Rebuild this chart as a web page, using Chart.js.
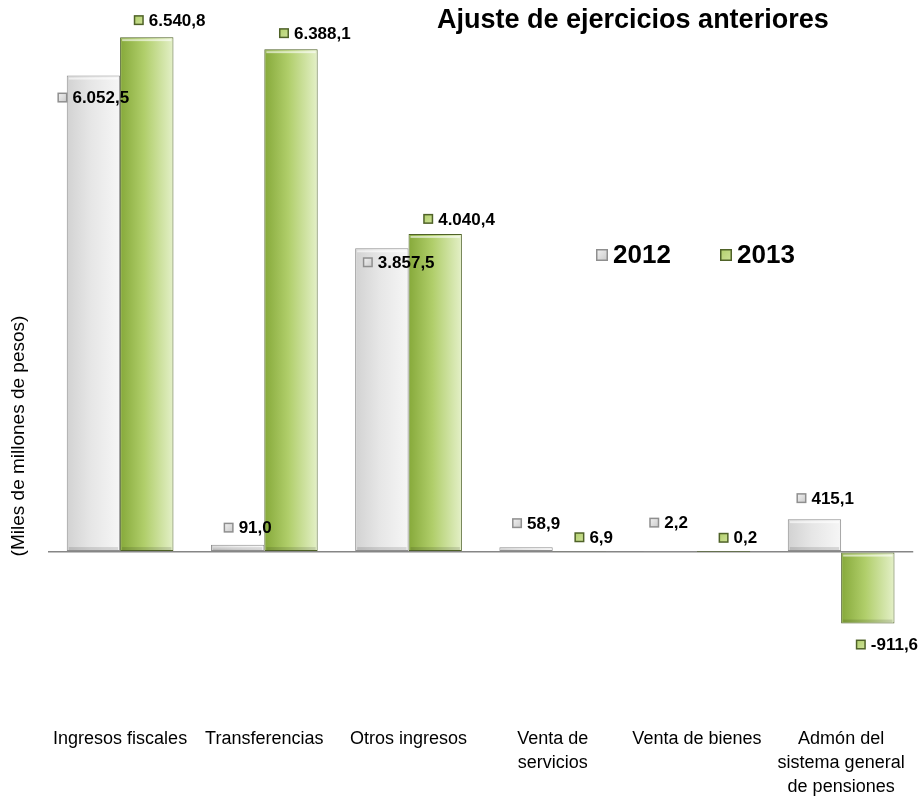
<!DOCTYPE html>
<html>
<head>
<meta charset="utf-8">
<script src="https://cdn.jsdelivr.net/npm/chart.js@4.4.0/dist/chart.umd.min.js"></script>
<style>
  html, body { margin: 0; padding: 0; background: #fff; }
  #wrap { width: 923px; height: 799px; position: relative; }
</style>
</head>
<body>
<div id="wrap"><canvas id="myChart"></canvas></div>
<script>

/* Datos */
const categorias = [
    ['Ingresos fiscales'],
    ['Transferencias'],
    ['Otros ingresos'],
    ['Venta de', 'servicios'],
    ['Venta de bienes'],
    ['Admón del', 'sistema general', 'de pensiones']
];
const valores2012 = [6052.5, 91.0, 3857.5, 58.9, 2.2, 415.1];
const valores2013 = [6540.8, 6388.1, 4040.4, 6.9, 0.2, -911.6];
const ejeMin = -2000;
const ejeMax = 7000;

const FUENTE = "'Liberation Sans', sans-serif";

// colores de cada serie: [izquierda, centro, derecha, borde]
const estilos = [
    ['#d2d2d2', '#e6e6e6', '#f6f6f6', '#8f8f8f'],
    ['#86a93a', '#b0ce6a', '#e4f0c8', '#4f6228']
];

// 6.540,8
function formato(v) {
    let s = Math.abs(v).toFixed(1).split('.');
    let ent = s[0].replace(/\B(?=(\d{3})+(?!\d))/g, '.');
    return (v < 0 ? '-' : '') + ent + ',' + s[1];
}

function cuadrito(ctx, x, y, t, serie) {
    let e = estilos[serie];
    let g = ctx.createLinearGradient(x, y, x + t, y + t);
    g.addColorStop(0, serie === 0 ? '#f4f4f4' : e[1]);
    g.addColorStop(1, serie === 0 ? '#c8c8c8' : '#cfe39a');
    ctx.fillStyle = e[3];
    ctx.fillRect(x, y, t, t);
    ctx.fillStyle = g;
    ctx.fillRect(x + 1.5, y + 1.5, t - 3, t - 3);
}

/* degradado de las barras (cada barra con su propio objeto de opciones) */
const degradados = {
    id: 'degradados',
    beforeDatasetsDraw(chart) {
        const ctx = chart.ctx;
        chart.data.datasets.forEach((ds, i) => {
            chart.getDatasetMeta(i).data.forEach(bar => {
                let e = estilos[i];
                let x0 = bar.x - bar.width / 2;
                let g = ctx.createLinearGradient(x0, 0, x0 + bar.width, 0);
                g.addColorStop(0, e[0]);
                g.addColorStop(0.45, e[1]);
                g.addColorStop(1, e[2]);
                bar.options = Object.assign({}, bar.options, {
                    backgroundColor: g,
                    borderColor: e[3]
                });
            });
        });
    },
    afterDatasetDraw(chart, args) {
        // brillo arriba y sombra abajo de cada barra
        const ctx = chart.ctx;
        ctx.save();
        args.meta.data.forEach(bar => {
            let x0 = bar.x - bar.width / 2;
            let top = Math.min(bar.y, bar.base);
            let h = Math.abs(bar.base - bar.y);
            if (h < 6) return;
            ctx.fillStyle = 'rgba(255,255,255,0.6)';
            ctx.fillRect(x0 + 2, top + 2, bar.width - 4, 2);
            ctx.fillStyle = 'rgba(0,0,0,0.12)';
            ctx.fillRect(x0 + 2, top + h - 4, bar.width - 4, 3);
        });
        ctx.restore();
    }
};

/* etiquetas de valor con su cuadrito */
// [dx del cuadrito respecto al centro de la barra, dy respecto al extremo]
const ajustes = [
    [[-36, 22], [-14, -17], [-19, 14], [-14, -24], [-21, -29], [-18, -21]],
    [[-13, -17], [-12, -16], [-12, -15], [-5, -14], [-5, -14], [-12, 21]]
];
const etiquetas = {
    id: 'etiquetas',
    afterDatasetsDraw(chart) {
        const ctx = chart.ctx;
        ctx.save();
        ctx.font = 'bold 17px ' + FUENTE;
        ctx.textBaseline = 'middle';
        chart.data.datasets.forEach((ds, i) => {
            chart.getDatasetMeta(i).data.forEach((bar, j) => {
                let a = ajustes[i][j];
                let x = bar.x + a[0];
                let y = bar.y + a[1];
                cuadrito(ctx, x, y - 5, 10, i);
                ctx.fillStyle = '#000';
                ctx.fillText(formato(ds.data[j]), x + 15, y + 1);
            });
        });
        ctx.restore();
    }
};

/* titulo, leyenda y titulo del eje */
const textos = {
    id: 'textos',
    afterDraw(chart) {
        const ctx = chart.ctx;
        ctx.save();
        ctx.fillStyle = '#000';
        ctx.textBaseline = 'middle';

        ctx.font = 'bold 27px ' + FUENTE;
        ctx.fillText('Ajuste de ejercicios anteriores', 437, 21);

        ctx.font = 'bold 26px ' + FUENTE;
        cuadrito(ctx, 596, 249, 12, 0);
        ctx.fillStyle = '#000';
        ctx.fillText(chart.data.datasets[0].label, 613, 256);
        cuadrito(ctx, 720, 249, 12, 1);
        ctx.fillStyle = '#000';
        ctx.fillText(chart.data.datasets[1].label, 737, 256);

        ctx.font = '19px ' + FUENTE;
        ctx.translate(19, 436);
        ctx.rotate(-Math.PI / 2);
        ctx.textAlign = 'center';
        ctx.fillText('(Miles de millones de pesos)', 0, 0);
        ctx.restore();
    }
};

const ctx = document.getElementById('myChart').getContext('2d');
const chart = new Chart(ctx, {
    type: 'bar',
    data: {
        labels: categorias,
        datasets: [
            { label: '2012', data: valores2012, borderWidth: 1, borderSkipped: false },
            { label: '2013', data: valores2013, borderWidth: 1, borderSkipped: false }
        ]
    },
    options: {
        responsive: true,
        maintainAspectRatio: false,
        animation: false,
        categoryPercentage: 0.74,
        barPercentage: 1,
        layout: { padding: { left: 48, right: 4, top: 1, bottom: -18 } },
        plugins: {
            legend: { display: false },
            tooltip: { enabled: false }
        },
        scales: {
            x: {
                grid: { display: false, drawTicks: false },
                border: { display: false },
                ticks: {
                    color: '#000',
                    padding: 18,
                    maxRotation: 0,
                    autoSkip: false,
                    font: { family: FUENTE, size: 18, lineHeight: 1.33 }
                }
            },
            y: {
                min: ejeMin,
                max: ejeMax,
                border: { display: false },
                grid: {
                    drawTicks: false,
                    lineWidth: 1.5,
                    color: c => c.tick.value === 0 ? '#868686' : 'transparent'
                },
                ticks: { display: false, stepSize: 1000 }
            }
        }
    },
    plugins: [degradados, etiquetas, textos]
});
</script>
</body>
</html>
